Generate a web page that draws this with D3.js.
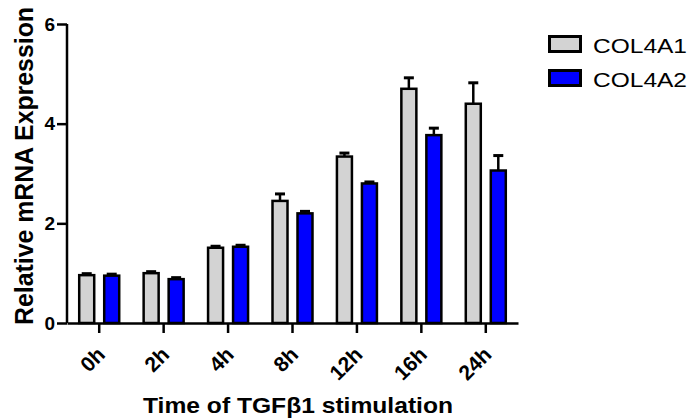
<!DOCTYPE html>
<html><head><meta charset="utf-8">
<script src="https://cdn.jsdelivr.net/npm/d3@7"></script>
<style>
body{margin:0;background:#fff;}
text{font-family:"Liberation Sans",Arial,sans-serif;}
</style></head>
<body><svg id="c" width="694" height="419"></svg>
<script>
const categories = ["0h","2h","4h","8h","12h","16h","24h"];
const series = ["COL4A1","COL4A2"];
const col4a1 = [0.96, 1.0, 1.51, 2.45, 3.34, 4.70, 4.40];
const col4a2 = [0.95, 0.88, 1.53, 2.20, 2.80, 3.77, 3.06];
const col4a1Err = [0.03, 0.03, 0.03, 0.14, 0.07, 0.22, 0.42];
const col4a2Err = [0.03, 0.03, 0.03, 0.04, 0.03, 0.14, 0.30];
const yTicks = [0, 2, 4, 6];
const colors = ["#d3d3d3", "#0000ff"];

const svg = d3.select("#c");
const x = d3.scaleBand().domain(categories).range([67, 518]).padding(0);
const xs = d3.scaleBand().domain(series).range([-20, 20]).paddingInner(0.4);
const y = d3.scaleLinear().domain([0, 6]).range([323, 24]);

const data = [];
categories.forEach((c, i) => {
  data.push({c, s: series[0], v: col4a1[i], e: col4a1Err[i], k: 0});
  data.push({c, s: series[1], v: col4a2[i], e: col4a2Err[i], k: 1});
});

const cx = d => x(d.c) + x.bandwidth() / 2 + xs(d.s) + xs.bandwidth() / 2;

// error bars
const eb = svg.append("g");
eb.selectAll("line.v").data(data).join("line")
  .attr("x1", cx).attr("x2", cx)
  .attr("y1", d => y(d.v)).attr("y2", d => y(d.v + d.e))
  .attr("stroke", "#000").attr("stroke-width", 2.5);
eb.selectAll("line.c").data(data).join("line")
  .attr("x1", d => cx(d) - 5).attr("x2", d => cx(d) + 5)
  .attr("y1", d => y(d.v + d.e)).attr("y2", d => y(d.v + d.e))
  .attr("stroke", "#000").attr("stroke-width", 3);

// bars
svg.append("g").selectAll("rect").data(data).join("rect")
  .attr("x", d => cx(d) - xs.bandwidth() / 2)
  .attr("width", xs.bandwidth())
  .attr("y", d => y(d.v))
  .attr("height", d => y(0) - y(d.v))
  .attr("fill", d => colors[d.k])
  .attr("stroke", "#000").attr("stroke-width", 2.5);

// y axis
const ya = svg.append("g").attr("transform", "translate(67,0)")
  .call(d3.axisLeft(y).tickValues(yTicks).tickSize(10).tickPadding(2).tickFormat(d3.format("d")));
ya.select(".domain").attr("stroke-width", 2.5).attr("d", "M0,24V323");
ya.selectAll(".tick line").attr("stroke-width", 2.5);
ya.selectAll("text").attr("font-size", 19).attr("font-weight", "bold").attr("fill", "#000");

// x axis
const xa = svg.append("g").attr("transform", "translate(0,323)")
  .call(d3.axisBottom(x).tickSize(10).tickSizeOuter(0));
xa.select(".domain").attr("stroke-width", 2.5);
xa.selectAll(".tick line").attr("stroke-width", 2.5);
xa.selectAll("text")
  .attr("font-size", 21).attr("font-weight", "bold").attr("fill", "#000")
  .attr("text-anchor", "end")
  .attr("y", 0).attr("dy", "0")
  .attr("transform", "translate(7,33) rotate(-45)");

// axis titles
svg.append("text").attr("transform", "translate(33,166) rotate(-90)")
  .attr("text-anchor", "middle").attr("font-size", 25).attr("font-weight", "bold")
  .attr("textLength", 318).attr("lengthAdjust", "spacingAndGlyphs")
  .text("Relative mRNA Expression");
svg.append("text").attr("x", 298).attr("y", 413)
  .attr("text-anchor", "middle").attr("font-size", 22).attr("font-weight", "bold")
  .attr("textLength", 310).attr("lengthAdjust", "spacingAndGlyphs")
  .text("Time of TGFβ1 stimulation");

// legend
const lg = svg.append("g");
series.forEach((s, i) => {
  lg.append("rect").attr("x", 549.5).attr("y", 36.5 + i * 34).attr("width", 31).attr("height", 15)
    .attr("fill", colors[i]).attr("stroke", "#000").attr("stroke-width", 3);
  lg.append("text").attr("x", 593).attr("y", 53 + i * 34).attr("font-size", 21)
    .attr("textLength", 94).attr("lengthAdjust", "spacingAndGlyphs").text(s);
});
</script></body></html>
